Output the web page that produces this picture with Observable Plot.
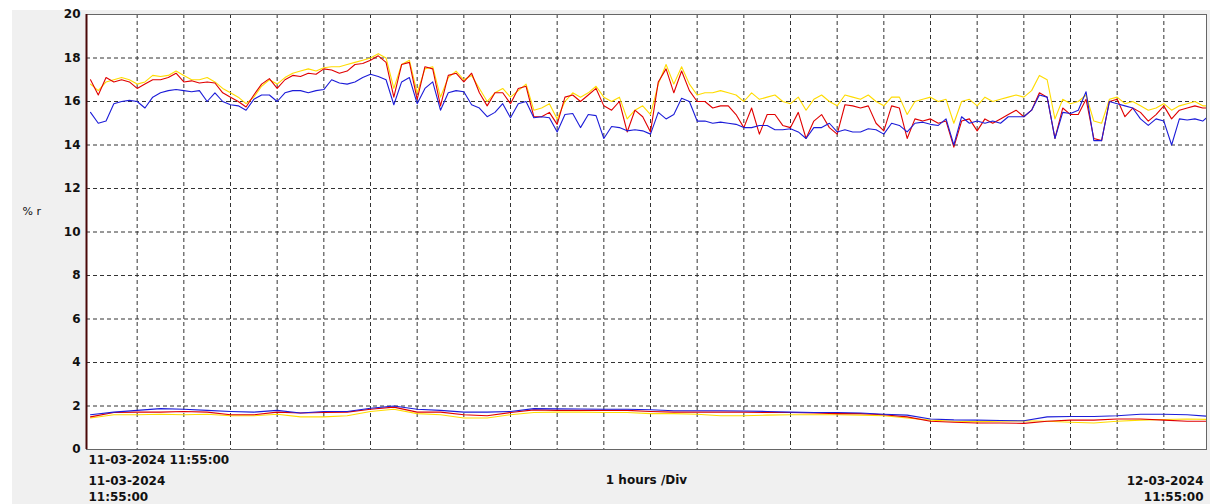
<!DOCTYPE html>
<html>
<head>
<meta charset="utf-8">
<script src="https://cdn.jsdelivr.net/npm/d3@7"></script>
<script src="https://cdn.jsdelivr.net/npm/@observablehq/plot@0.6"></script>
<style>
  html, body { margin: 0; padding: 0; background: #ffffff; }
  #chart svg { display: block; }
</style>
</head>
<body>
<div id="chart"></div>
<script>
// ---- Data ----
const startLabel = "11-03-2024 11:55:00";
const startDate = "11-03-2024";
const endDate = "12-03-2024";
const timeLabel = "11:55:00";
const divLabel = "1 hours /Div";
const yLabel = "% r";
const yTicks = [0, 2, 4, 6, 8, 10, 12, 14, 16, 18, 20];
const gridValues = [2, 4, 6, 8, 10, 12, 14, 16, 18];

// upper band, one value every 10 minutes
const upperStepMin = 10;
const upperRed = [
  17.0, 16.3, 17.1, 16.9, 17.0, 16.9, 16.6, 16.8, 17.0, 17.0,
  17.1, 17.3, 16.9, 16.95, 16.85, 16.9, 16.85, 16.4, 16.2, 16.0,
  15.75, 16.3, 16.8, 17.05, 16.6, 17.0, 17.2, 17.15, 17.3, 17.25,
  17.5, 17.45, 17.3, 17.4, 17.7, 17.75, 17.9, 18.1, 17.8, 16.2,
  17.7, 17.8, 16.1, 17.6, 17.5, 15.8, 17.2, 17.3, 16.9, 17.3,
  16.4, 15.8, 16.4, 16.4, 15.9, 16.6, 16.7, 15.3, 15.3, 15.5,
  14.95, 16.2, 16.3, 16.0, 16.3, 16.6, 15.8, 15.6, 16.0, 14.6,
  15.6, 15.3, 14.6, 16.9, 17.5, 16.4, 17.4, 16.5, 16.0, 16.0,
  15.7, 15.8, 15.8, 15.4, 14.8, 15.7, 14.5, 15.4, 15.4, 14.9,
  14.8, 15.5, 14.3, 15.1, 15.4, 14.8, 14.5, 15.85, 15.8, 15.7,
  15.8, 15.0, 14.65, 15.8, 15.7, 14.3, 15.2, 15.1, 15.2, 15.0,
  15.1, 13.9, 15.1, 15.2, 14.65, 15.2, 15.0, 15.2, 15.4, 15.6,
  15.3, 15.6, 16.4, 16.2, 14.3, 15.7, 15.4, 15.4, 16.1, 14.3,
  14.2, 16.0, 16.1, 15.3, 15.7, 15.5, 15.1, 15.4, 15.8, 15.2,
  15.6, 15.7, 15.8, 15.7, 15.7
];
const upperYellow = [
  16.8, 16.5, 16.9, 17.0, 17.1, 17.0, 16.8, 16.9, 17.2, 17.15,
  17.2, 17.4, 17.2, 17.0, 17.0, 17.1, 16.9, 16.6, 16.4, 16.2,
  15.9, 16.2, 16.7, 17.0, 16.8, 17.1, 17.3, 17.4, 17.5, 17.4,
  17.55, 17.6, 17.6, 17.7, 17.8, 17.9, 18.0, 18.2, 18.0, 16.6,
  17.7, 17.9, 16.4, 17.5, 17.6, 16.2, 17.1, 17.4, 17.0, 17.2,
  16.6, 16.0, 16.4, 16.6, 16.2, 16.5, 16.8, 15.6, 15.7, 15.9,
  15.2, 16.0, 16.4, 16.2, 16.4, 16.7, 16.2, 16.0, 16.2, 15.2,
  15.6, 15.8, 15.4, 16.8, 17.7, 16.8, 17.6, 16.8, 16.3, 16.4,
  16.4, 16.5, 16.4, 16.3, 16.0, 16.4, 16.1, 16.2, 16.3, 16.0,
  15.9, 16.2, 15.6, 16.1, 16.3, 16.0, 15.8, 16.3, 16.2, 16.1,
  16.3, 16.0, 15.8, 16.2, 16.2, 15.4, 16.0, 16.1, 16.2, 16.0,
  16.1, 15.0, 16.0, 16.1, 15.8, 16.2, 16.0, 16.1, 16.2, 16.3,
  16.2, 16.5, 17.2, 17.0, 15.2, 16.1, 15.9, 16.0, 16.3, 15.1,
  15.0, 16.1, 16.2, 15.9, 16.0, 15.8, 15.6, 15.7, 15.9, 15.6,
  15.8, 15.9, 16.0, 15.8, 15.8
];
const upperBlue = [
  15.5, 15.0, 15.1, 15.9, 16.0, 16.05, 16.0, 15.7, 16.2, 16.4,
  16.5, 16.55, 16.5, 16.45, 16.5, 16.0, 16.4, 16.0, 15.85, 15.8,
  15.6, 16.1, 16.3, 16.3, 16.0, 16.4, 16.5, 16.5, 16.4, 16.5,
  16.55, 17.0, 16.85, 16.8, 16.9, 17.1, 17.25, 17.15, 17.0, 15.85,
  16.9, 17.1, 15.9, 16.6, 16.9, 15.6, 16.4, 16.5, 16.45, 15.85,
  15.7, 15.3, 15.5, 15.9, 15.25, 15.9, 16.0, 15.25, 15.3, 15.25,
  14.6, 15.4, 15.45, 14.8, 15.4, 15.35, 14.3, 14.85, 14.8, 14.65,
  14.7, 14.65, 14.5, 15.5, 15.2, 15.4, 16.15, 16.0, 15.1, 15.1,
  15.0, 15.05, 15.0, 14.95, 14.8, 14.8, 14.9, 14.9, 14.7, 14.7,
  14.75, 14.6, 14.3, 14.8, 14.8, 15.0, 14.6, 14.7, 14.6, 14.6,
  14.75, 14.7, 14.5, 15.0, 14.9, 14.6, 15.0, 15.05, 14.95, 14.9,
  15.2, 14.0, 15.3, 15.0, 15.1, 15.0, 15.1, 15.0, 15.3, 15.3,
  15.3, 15.6, 16.3, 16.2, 14.3, 15.5, 15.45, 15.6, 16.45, 14.2,
  14.2, 16.0, 15.9, 15.8, 15.7, 15.2, 14.9, 15.2, 15.1, 14.0,
  15.2, 15.15, 15.2, 15.1, 15.4
];

// lower band, one value every 30 minutes
const lowerStepMin = 30;
const lowerRed = [
  1.5, 1.7, 1.72, 1.72, 1.75, 1.72, 1.6, 1.6, 1.72, 1.68,
  1.7, 1.72, 1.85, 1.95, 1.72, 1.72, 1.6, 1.55, 1.7, 1.82,
  1.8, 1.8, 1.8, 1.8, 1.75, 1.72, 1.72, 1.72, 1.72, 1.7,
  1.7, 1.68, 1.65, 1.65, 1.6, 1.5, 1.3, 1.25, 1.22, 1.22,
  1.2, 1.3, 1.35, 1.35, 1.4, 1.4, 1.35, 1.3, 1.3
];
const lowerYellow = [
  1.45, 1.6, 1.6, 1.62, 1.6, 1.62, 1.55, 1.55, 1.62, 1.5,
  1.5, 1.55, 1.75, 1.85, 1.65, 1.6, 1.45, 1.45, 1.6, 1.7,
  1.72, 1.72, 1.7, 1.7, 1.65, 1.65, 1.62, 1.55, 1.55, 1.58,
  1.6, 1.6, 1.6, 1.58, 1.55, 1.45, 1.35, 1.3, 1.28, 1.3,
  1.32, 1.3, 1.25, 1.22, 1.3, 1.35, 1.38, 1.4, 1.38
];
const lowerBlue = [
  1.6, 1.72, 1.8, 1.88, 1.85, 1.8, 1.75, 1.72, 1.8, 1.68,
  1.75, 1.75, 1.9, 2.0, 1.85, 1.8, 1.72, 1.72, 1.75, 1.88,
  1.87, 1.86, 1.85, 1.85, 1.83, 1.78, 1.78, 1.78, 1.77, 1.75,
  1.72, 1.7, 1.7, 1.68, 1.62, 1.58, 1.4, 1.36, 1.35, 1.33,
  1.32, 1.5, 1.52, 1.52, 1.55, 1.62, 1.62, 1.6, 1.52
];

// ---- Build tables ----
const start = new Date(2024, 2, 11, 11, 55, 0);
const end = d3.timeHour.offset(start, 24);
const hourGrid = d3.range(1, 24).map(k => d3.timeHour.offset(start, k));

function toRows(values, step, series) {
  return values.map((v, i) => ({t: d3.timeMinute.offset(start, i * step), v, series}));
}
const colors = {red: "#e00000", yellow: "#ffdc00", blue: "#1c1cd8"};
const lines = [
  {rows: toRows(upperYellow, upperStepMin, "yellow"), c: colors.yellow},
  {rows: toRows(lowerYellow, lowerStepMin, "yellow"), c: colors.yellow},
  {rows: toRows(upperRed, upperStepMin, "red"), c: colors.red},
  {rows: toRows(lowerRed, lowerStepMin, "red"), c: colors.red},
  {rows: toRows(upperBlue, upperStepMin, "blue"), c: colors.blue},
  {rows: toRows(lowerBlue, lowerStepMin, "blue"), c: colors.blue}
];

const chart = Plot.plot({
  width: 1210,
  height: 504,
  marginTop: 14,
  marginBottom: 55,
  marginLeft: 86,
  marginRight: 4,
  style: {
    background: "linear-gradient(to right, #ffffff 12px, transparent 12px), linear-gradient(to bottom, #ffffff 10px, #f0f0f0 10px)",
    fontFamily: "DejaVu Sans", fontSize: "12px", fontWeight: "bold", color: "#111"
  },
  x: {type: "time", domain: [start, end], range: [90, 1210], axis: null},
  y: {domain: [0, 20], axis: null},
  marks: [
    Plot.frame({fill: "white"}),
    Plot.ruleY(gridValues, {stroke: "#333", strokeDasharray: "4,3"}),
    Plot.ruleX(hourGrid, {stroke: "#333", strokeDasharray: "4,3"}),
    ...lines.map(l => Plot.line(l.rows, {x: "t", y: "v", stroke: l.c, strokeWidth: 1.1, clip: true})),
    Plot.frame({stroke: "#666"}),
    Plot.ruleX([start], {stroke: "#4a0808", strokeWidth: 2, dx: -4}),
    Plot.axisY({ticks: yTicks, tickSize: 0, tickPadding: 6, label: null, fontSize: 12, fontWeight: "bold", tickFormat: d => String(d)}),
    Plot.text([yLabel], {frameAnchor: "left", dx: -64, dy: -21, textAnchor: "start", fontSize: 11, fontWeight: "normal", fill: "#111"}),
    Plot.text([startLabel], {frameAnchor: "bottom-left", dx: 2, dy: 11, textAnchor: "start", lineAnchor: "middle", fill: "#111"}),
    Plot.text([startDate + "\n" + timeLabel], {frameAnchor: "bottom-left", dx: 2, dy: 24, textAnchor: "start", lineAnchor: "top", lineHeight: 1.33, fill: "#111"}),
    Plot.text([divLabel], {frameAnchor: "bottom", dy: 31, lineAnchor: "middle", fill: "#111"}),
    Plot.text([endDate + "\n" + timeLabel], {frameAnchor: "bottom-right", dx: -3, dy: 24, textAnchor: "end", lineAnchor: "top", lineHeight: 1.33, fill: "#111"})
  ]
});
document.getElementById("chart").appendChild(chart);
</script>
</body>
</html>
